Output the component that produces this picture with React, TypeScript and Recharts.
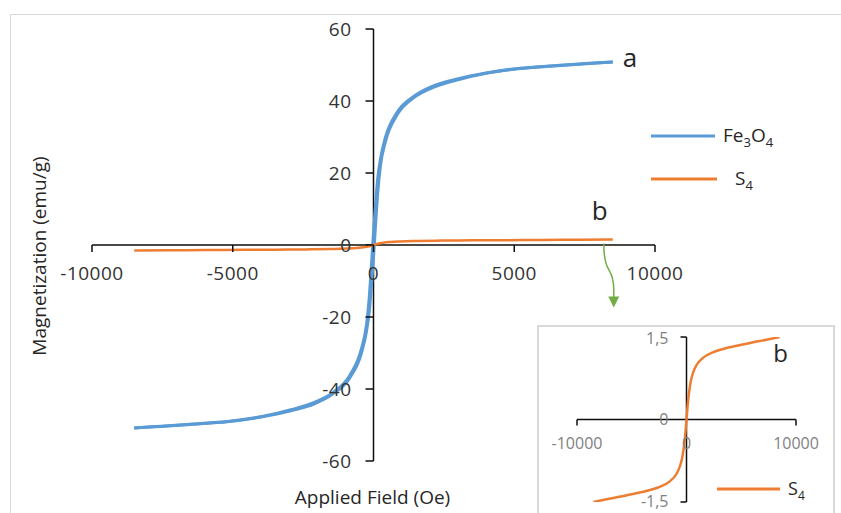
import React from 'react';
import { LineChart, Line, XAxis, YAxis, ReferenceLine, ReferenceDot, Legend } from 'recharts';

const FONT = '"Open Sans", "Noto Sans", sans-serif';

// Fe3O4 hysteresis loop (Applied field in Oe, magnetization in emu/g)
const fe3o4FieldOe = [-8500, -7300, -6400, -5200, -4000, -2900, -2100, -1450, -850, -420, -250, -150, -80, 0, 80, 150, 250, 420, 850, 1450, 2100, 2900, 4000, 5200, 6400, 7300, 8500];
const fe3o4Descending = [-50.8, -50.2, -49.7, -49.0, -47.7, -45.7, -43.7, -41.0, -36.3, -28.6, -22.2, -14.5, -6.5, 3.5, 12, 18.5, 24, 29.8, 37.0, 41.4, 44.1, 46.0, 47.8, 49.1, 49.8, 50.3, 50.8];
const fe3o4Ascending = [-50.8, -50.3, -49.8, -49.1, -47.8, -46.0, -44.1, -41.4, -37.0, -29.8, -24, -18.5, -12, -3.5, 6.5, 14.5, 22.2, 28.6, 36.3, 41.0, 43.7, 45.7, 47.7, 49.0, 49.7, 50.2, 50.8];

// S4 curve
const s4FieldOe = [-8500, -7300, -6000, -4600, -3500, -2400, -1500, -950, -600, -350, -150, 0, 150, 350, 600, 950, 1500, 2400, 3500, 4600, 6000, 7300, 8500];
const s4Magnetization = [-1.5, -1.45, -1.4, -1.34, -1.29, -1.22, -1.12, -1.0, -0.85, -0.65, -0.35, 0, 0.35, 0.65, 0.85, 1.0, 1.12, 1.22, 1.29, 1.34, 1.4, 1.45, 1.5];

const mainXTicks = [-10000, -5000, 0, 5000, 10000];
const mainYTicks = [-60, -40, -20, 0, 20, 40, 60];
const insetXTicks = [-10000, 0, 10000];
const insetYTicks = [-1.5, 0, 1.5];

const BLUE = '#5b9bd5';
const ORANGE = '#ed7d31';
const GREEN = '#70ad47';
const AXIS = '#0d0d0d';

const feDown = fe3o4FieldOe.map((h, i) => ({ h, m: fe3o4Descending[i] }));
const feUp = fe3o4FieldOe.map((h, i) => ({ h, m: fe3o4Ascending[i] }));
const s4Data = s4FieldOe.map((h, i) => ({ h, m: s4Magnetization[i] }));
const feLast = feDown[feDown.length - 1];
const s4Last = s4Data[s4Data.length - 1];

const fmtComma = (v: number) => String(v).replace('.', ',');

function MainLegend() {
  return (
    <svg width={170} height={80} style={{ overflow: 'visible' }}>
      <line x1={0} y1={16} x2={64} y2={16} stroke={BLUE} strokeWidth={3} />
      <text x={72} y={22} fontFamily={FONT} fontSize={19} fill="#262626">
        Fe<tspan dy={5} fontSize={13}>3</tspan><tspan dy={-5}>O</tspan><tspan dy={5} fontSize={13}>4</tspan>
      </text>
      <line x1={0} y1={59} x2={66} y2={59} stroke={ORANGE} strokeWidth={3} />
      <text x={84} y={65} fontFamily={FONT} fontSize={19} fill="#262626">
        S<tspan dy={5} fontSize={13}>4</tspan>
      </text>
    </svg>
  );
}

function InsetLegend() {
  return (
    <svg width={100} height={26} style={{ overflow: 'visible' }}>
      <line x1={0} y1={12} x2={63} y2={12} stroke={ORANGE} strokeWidth={3} />
      <text x={71} y={18} fontFamily={FONT} fontSize={18} fill="#262626">
        S<tspan dy={5} fontSize={12}>4</tspan>
      </text>
    </svg>
  );
}

export default function App() {
  return (
    <div style={{ position: 'fixed', left: 0, top: 0, width: 841, height: 513, overflow: 'hidden', background: '#fff', fontFamily: FONT }}>
      <div style={{ position: 'absolute', left: 10, top: 14, width: 900, height: 600, border: '1.5px solid #d9d9d9', boxSizing: 'border-box' }} />
      <div style={{ position: 'absolute', left: 0, top: 0 }}>
        <LineChart width={841} height={513} margin={{ top: 29, right: 186, bottom: 0, left: 0 }}>
          <XAxis
            dataKey="h"
            type="number"
            domain={[-10000, 10000]}
            allowDataOverflow
            height={52}
            axisLine={false}
            tickLine={false}
            tick={false}
            label={(p: any) => {
              const vb = p.viewBox || { x: 92, y: 461, width: 563, height: 52 };
              return (
                <text x={vb.x + vb.width / 2 - 1} y={vb.y + 36} textAnchor="middle" dominantBaseline="central" fontFamily={FONT} fontSize={19} fill="#262626">
                  Applied Field (Oe)
                </text>
              );
            }}
          />
          <YAxis
            type="number"
            domain={[-60, 60]}
            allowDataOverflow
            width={92}
            axisLine={false}
            tickLine={false}
            tick={false}
            label={(p: any) => {
              const vb = p.viewBox || { x: 0, y: 29, width: 92, height: 432 };
              const x = vb.x + 39;
              const y = vb.y + vb.height / 2 + 11;
              return (
                <text x={x} y={y} transform={`rotate(-90, ${x}, ${y})`} textAnchor="middle" dominantBaseline="central" fontFamily={FONT} fontSize={19} fill="#262626">
                  Magnetization (emu/g)
                </text>
              );
            }}
          />
          <ReferenceLine x={0} stroke={AXIS} strokeWidth={1.5} />
          <ReferenceLine y={0} stroke={AXIS} strokeWidth={1.5} />
          {mainXTicks.map((t) => (
            <ReferenceDot
              key={'mx' + t}
              x={t}
              y={0}
              ifOverflow="visible"
              shape={(p: any) => (
                <g>
                  <line x1={p.cx} y1={p.cy} x2={p.cx} y2={p.cy + 7} stroke={AXIS} strokeWidth={1.5} />
                  <text x={p.cx} y={p.cy + 28} textAnchor="middle" dominantBaseline="central" fontFamily={FONT} fontSize={19} letterSpacing={0.5} fill="#333">
                    {String(t)}
                  </text>
                </g>
              )}
            />
          ))}
          {mainYTicks.map((t) => (
            <ReferenceDot
              key={'my' + t}
              x={0}
              y={t}
              ifOverflow="visible"
              shape={(p: any) => (
                <g>
                  <line x1={p.cx - 8} y1={p.cy} x2={p.cx} y2={p.cy} stroke={AXIS} strokeWidth={1.5} />
                  <text x={p.cx - 22} y={p.cy} textAnchor="end" dominantBaseline="central" fontFamily={FONT} fontSize={19} letterSpacing={0.5} fill="#333">
                    {String(t)}
                  </text>
                </g>
              )}
            />
          ))}
          <Line data={feDown} dataKey="m" type="monotone" stroke={BLUE} strokeWidth={3} dot={false} activeDot={false} isAnimationActive={false} />
          <Line data={feUp} dataKey="m" type="monotone" stroke={BLUE} strokeWidth={3} dot={false} activeDot={false} isAnimationActive={false} />
          <Line data={s4Data} dataKey="m" type="monotone" stroke={ORANGE} strokeWidth={2.5} dot={false} activeDot={false} isAnimationActive={false} />
          <ReferenceDot
            x={feLast.h}
            y={feLast.m}
            ifOverflow="visible"
            shape={(p: any) => (
              <text x={p.cx + 10} y={p.cy + 5} fontFamily={FONT} fontSize={26} fill="#262626">a</text>
            )}
          />
          <ReferenceDot
            x={s4Last.h}
            y={s4Last.m}
            ifOverflow="visible"
            shape={(p: any) => (
              <g>
                <text x={p.cx - 13} y={p.cy - 20} textAnchor="middle" fontFamily={FONT} fontSize={26} fill="#262626">b</text>
                <path d={`M ${p.cx - 9} ${p.cy + 4} Q ${p.cx - 9} ${p.cy + 22} ${p.cx - 4} ${p.cy + 30} Q ${p.cx + 1} ${p.cy + 38} ${p.cx + 1} ${p.cy + 50} L ${p.cx + 1} ${p.cy + 58}`} fill="none" stroke={GREEN} strokeWidth={1.5} />
                <polygon points={`${p.cx - 4.5},${p.cy + 57} ${p.cx + 6.5},${p.cy + 57} ${p.cx + 1},${p.cy + 68}`} fill={GREEN} />
              </g>
            )}
          />
          <Legend
            layout="vertical"
            align="center"
            verticalAlign="middle"
            wrapperStyle={{ left: 651, top: 120, width: 170, height: 80 }}
            content={() => <MainLegend />}
          />
        </LineChart>
      </div>
      <div style={{ position: 'absolute', left: 537, top: 325, width: 298, height: 200, border: '2px solid #d9d9d9', boxSizing: 'border-box', background: '#fff' }}>
        <LineChart width={294} height={186} margin={{ top: 10, right: 37, bottom: 11, left: 38 }}>
          <XAxis dataKey="h" type="number" domain={[-10000, 10000]} allowDataOverflow hide />
          <YAxis type="number" domain={[-1.5, 1.5]} allowDataOverflow hide />
          <ReferenceLine x={0} stroke={AXIS} strokeWidth={1.5} />
          <ReferenceLine y={0} stroke={AXIS} strokeWidth={1.5} />
          {insetXTicks.map((t) => (
            <ReferenceDot
              key={'ix' + t}
              x={t}
              y={0}
              ifOverflow="visible"
              shape={(p: any) => (
                <g>
                  {t !== 0 && <line x1={p.cx} y1={p.cy} x2={p.cx} y2={p.cy + 6} stroke={AXIS} strokeWidth={1.5} />}
                  <text x={p.cx} y={p.cy + 23} textAnchor="middle" dominantBaseline="central" fontFamily={FONT} fontSize={16} fill="#7f7f7f">
                    {String(t)}
                  </text>
                </g>
              )}
            />
          ))}
          {insetYTicks.map((t) => (
            <ReferenceDot
              key={'iy' + t}
              x={0}
              y={t}
              ifOverflow="visible"
              shape={(p: any) => (
                <g>
                  {t !== 0 && <line x1={p.cx - 6} y1={p.cy} x2={p.cx} y2={p.cy} stroke={AXIS} strokeWidth={1.5} />}
                  <text x={p.cx - 18} y={t > 0 ? p.cy + 1 : p.cy - 1} textAnchor="end" dominantBaseline="central" fontFamily={FONT} fontSize={16} fill="#7f7f7f">
                    {fmtComma(t)}
                  </text>
                </g>
              )}
            />
          ))}
          <Line data={s4Data} dataKey="m" type="monotone" stroke={ORANGE} strokeWidth={2.5} dot={false} activeDot={false} isAnimationActive={false} />
          <ReferenceDot
            x={s4Last.h}
            y={s4Last.m}
            ifOverflow="visible"
            shape={(p: any) => (
              <text x={p.cx + 1} y={p.cy + 25} textAnchor="middle" fontFamily={FONT} fontSize={24} fill="#262626">b</text>
            )}
          />
          <Legend
            layout="vertical"
            align="center"
            verticalAlign="middle"
            wrapperStyle={{ left: 178, top: 150, width: 100, height: 26 }}
            content={() => <InsetLegend />}
          />
        </LineChart>
      </div>
    </div>
  );
}
